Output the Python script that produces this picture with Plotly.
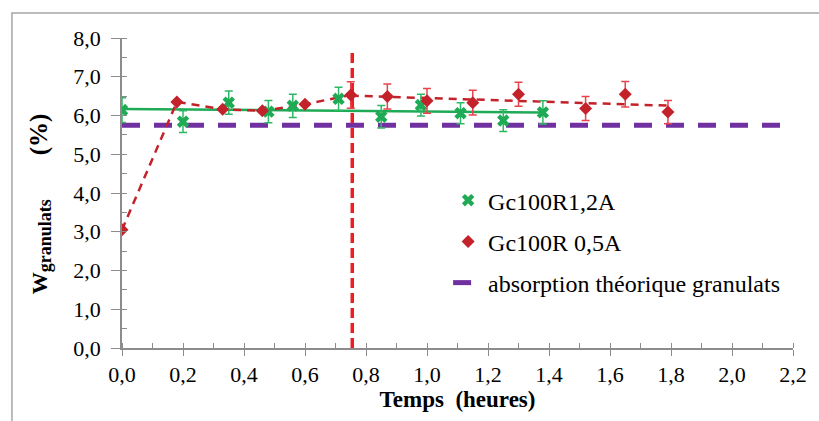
import numpy as np
import plotly.graph_objects as go

# ---- data ----
green_name = "Gc100R1,2A"
green_x = [0.00, 0.20, 0.35, 0.48, 0.56, 0.71, 0.85, 0.98, 1.11, 1.25, 1.38]
green_y = [6.14, 5.84, 6.33, 6.10, 6.25, 6.43, 5.97, 6.27, 6.06, 5.87, 6.08]
green_err = [0.32, 0.28, 0.30, 0.29, 0.30, 0.30, 0.29, 0.28, 0.27, 0.28, 0.30]

red_name = "Gc100R 0,5A"
red_x = [0.00, 0.18, 0.33, 0.46, 0.60, 0.75, 0.87, 1.00, 1.15, 1.30, 1.52, 1.65, 1.79]
red_y = [3.05, 6.35, 6.16, 6.12, 6.29, 6.53, 6.49, 6.38, 6.33, 6.55, 6.18, 6.55, 6.09]
red_err = [0, 0, 0, 0, 0, 0.34, 0.32, 0.32, 0.32, 0.31, 0.31, 0.33, 0.30]
red_split = 5  # index where the connecting line becomes a trend line

theo_name = "absorption théorique granulats"
theo_x = [0.0, 2.2]
theo_y = [5.75, 5.75]

seuil_x = [0.755, 0.755]
seuil_y = [0.0, 7.65]

x_ticks = [0.0, 0.2, 0.4, 0.6, 0.8, 1.0, 1.2, 1.4, 1.6, 1.8, 2.0, 2.2]
y_ticks = [0, 1, 2, 3, 4, 5, 6, 7, 8]

# ---- styles ----
FONT = "Liberation Serif, Times New Roman, serif"
GREEN = "#1FAA55"
GREEN_ERR = "#2FB864"
RED = "#C4222B"
RED_ERR = "#E8434B"
PURPLE = "#7030A0"
VRED = "#EE1C24"
AXIS = "#8C8C8C"

fig = go.Figure()

# theoretical absorption line
fig.add_trace(go.Scatter(
    x=theo_x, y=theo_y, mode="lines", name=theo_name,
    line=dict(color=PURPLE, width=5, dash="18px,14px"),
    legendgroup="c", legendrank=3,
))

# vertical red dashed line
fig.add_trace(go.Scatter(
    x=seuil_x, y=seuil_y, mode="lines", showlegend=False,
    line=dict(color=VRED, width=3.5, dash="10px,5px"),
    hoverinfo="skip",
))

# green trend line (linear fit)
gc = np.polyfit(green_x, green_y, 1)
gtx = [green_x[0], green_x[-1]]
fig.add_trace(go.Scatter(
    x=gtx, y=list(np.polyval(gc, gtx)), mode="lines", showlegend=False,
    line=dict(color=GREEN, width=2.5), hoverinfo="skip",
))

# red connecting dashed line (first part) + trend (second part)
fig.add_trace(go.Scatter(
    x=red_x[:red_split + 1], y=red_y[:red_split + 1], mode="lines",
    showlegend=False, line=dict(color=RED, width=2.5, dash="8px,6px"),
    hoverinfo="skip",
))
rc = np.polyfit(red_x[red_split:], red_y[red_split:], 1)
rtx = [red_x[red_split], red_x[-1]]
fig.add_trace(go.Scatter(
    x=rtx, y=list(np.polyval(rc, rtx)), mode="lines", showlegend=False,
    line=dict(color=RED, width=2.5, dash="8px,6px"), hoverinfo="skip",
))

# green markers
fig.add_trace(go.Scatter(
    x=green_x, y=green_y, mode="markers", name=green_name,
    marker=dict(symbol="x", size=11, color=GREEN),
    error_y=dict(type="data", array=green_err, visible=True,
                 color=GREEN_ERR, thickness=1.5, width=4),
    legendgroup="a", legendrank=1,
))

# red markers
fig.add_trace(go.Scatter(
    x=red_x, y=red_y, mode="markers", name=red_name,
    marker=dict(symbol="diamond", size=10, color=RED),
    error_y=dict(type="data", array=red_err, visible=True,
                 color=RED_ERR, thickness=1.5, width=4),
    legendgroup="b", legendrank=2,
))

# outer frame (left + top edge visible)
fig.add_shape(type="rect", xref="paper", yref="paper",
              x0=-0.164, x1=1.06, y0=-0.26, y1=1.081,
              line=dict(color="#A6A6A6", width=1.5), layer="below")

fig.update_layout(
    width=819, height=421,
    margin=dict(l=122, r=26, t=38, b=73),
    paper_bgcolor="white", plot_bgcolor="white",
    font=dict(family=FONT, size=21, color="black"),
    separators=", ",
    showlegend=True,
    legend=dict(
        x=0.486, y=0.548, xanchor="left", yanchor="top",
        font=dict(family=FONT, size=24, color="black"),
        bgcolor="rgba(0,0,0,0)", traceorder="grouped",
        tracegroupgap=7, itemwidth=30,
    ),
    xaxis=dict(
        range=[0, 2.2], tickvals=x_ticks, tickformat=".1f",
        showline=True, linecolor=AXIS, linewidth=1.5,
        showgrid=False, zeroline=False,
        ticks="outside", ticklen=6, tickwidth=1.2, tickcolor=AXIS,
        minor=dict(dtick=0.1, ticks="inside", ticklen=5, tickwidth=1.2,
                   tickcolor=AXIS, showgrid=False),
        tickfont=dict(family=FONT, size=22),
        title=dict(text="<b>Temps  (heures)</b>",
                   font=dict(family=FONT, size=23), standoff=5),
        automargin=False,
    ),
    yaxis=dict(
        range=[0, 8], tickvals=y_ticks, tickformat=".1f",
        showline=True, linecolor=AXIS, linewidth=1.5,
        showgrid=False, zeroline=False,
        ticks="outside", ticklen=9, tickwidth=1.2, tickcolor=AXIS,
        minor=dict(dtick=0.5, ticks="inside", ticklen=5, tickwidth=1.2,
                   tickcolor=AXIS, showgrid=False),
        tickfont=dict(family=FONT, size=22),
        ticklabelstandoff=6,
        title=dict(text="<b>W<sub><span style='font-size:18px'>granulats</span></sub>"
                        + "&nbsp;" * 8
                        + "<span style='font-size:25px'>(%)</span>"
                        + "&nbsp;" * 4 + "</b>",
                   font=dict(family=FONT, size=22), standoff=20),
        automargin=False,
    ),
)

fig.write_html("out.html",
               config={"displayModeBar": False},
               post_script="document.body.style.margin='0';"
                           "document.body.style.padding='0';")
